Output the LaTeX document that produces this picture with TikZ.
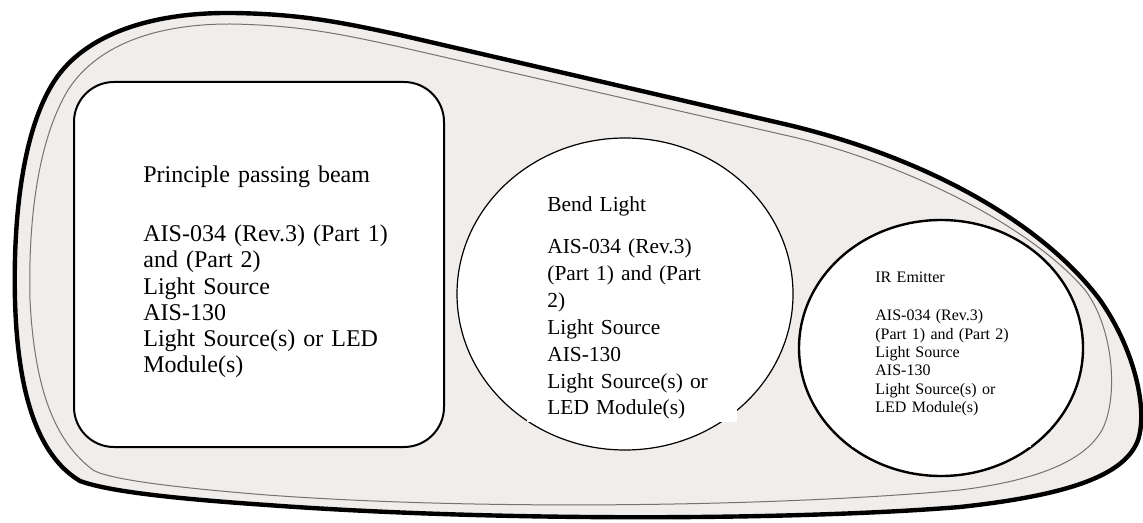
\documentclass[tikz,border=0pt]{standalone}
\usepackage{fontspec}
\setmainfont{Liberation Serif}
\usepackage{tikz}
\usetikzlibrary{positioning}
\definecolor{shellgrey}{RGB}{240,237,235}

\begin{document}
\begin{tikzpicture}[
x=0.5pt,y=-0.5pt,
Shell/.style={draw=black,line width=2.2pt,fill=shellgrey,line join=round},
InnerRim/.style={draw=black!55,line width=0.5pt},
MainBox/.style={draw=black,line width=1pt,fill=white,rounded corners=20pt},
BendLamp/.style={draw=black,line width=0.6pt,fill=white},
IrLamp/.style={draw=black,line width=1.2pt,fill=white},
Patch/.style={fill=white},
LampText/.style={anchor=base west,inner sep=0pt,align=left}
]
\useasboundingbox (0,0) rectangle (1143,523);

% lamp housing
\draw[Shell] (15,300)
  .. controls (13,220) and (22,130) .. (55,80)
  .. controls (85,35) and (150,12) .. (233,13)
  .. controls (300,14) and (340,22) .. (400,35)
  -- (780,123)
  .. controls (920,155) and (1040,220) .. (1100,300)
  .. controls (1135,350) and (1148,410) .. (1138,440)
  .. controls (1125,475) and (1070,495) .. (960,507)
  .. controls (800,520) and (500,522) .. (267,505)
  .. controls (180,499) and (110,492) .. (80,481)
  .. controls (45,460) and (18,410) .. (15,300) -- cycle;
\draw[InnerRim] (30,300)
  .. controls (28,220) and (38,140) .. (68,90)
  .. controls (95,48) and (150,24) .. (230,24)
  .. controls (300,25) and (345,35) .. (400,47)
  -- (780,134)
  .. controls (900,160) and (1030,225) .. (1085,290)
  .. controls (1115,330) and (1118,400) .. (1102,430)
  .. controls (1085,460) and (1040,480) .. (960,490)
  .. controls (800,505) and (500,512) .. (267,495)
  .. controls (180,488) and (110,480) .. (93,470)
  .. controls (60,445) and (35,400) .. (30,300) -- cycle;

\coordinate (bendC) at (625,294);
\coordinate (irC) at (941,348);

\draw[MainBox] (74,82) rectangle (444,447);
\draw[BendLamp] (bendC) ellipse [x radius=168, y radius=156];
\draw[IrLamp] (irC) ellipse [x radius=142, y radius=128];

% text boxes
\fill[Patch] (527,380) rectangle (737,422);
\fill[Patch] (852,420) rectangle (1031,447);

\node[LampText,text width=170pt,font=\fontsize{12}{13.1}\selectfont] (beamtxt) at (143,183)
{Principle passing beam\\[16.25pt]
AIS-034 (Rev.3) (Part 1)\\
and (Part 2)\\
Light Source\\
AIS-130\\
Light Source(s) or LED\\
Module(s)};

\node[LampText,text width=95pt,font=\fontsize{10.7}{13.4}\selectfont] (bendtxt) at (547,211.7)
{Bend Light\\[7.75pt]
AIS-034 (Rev.3)\\
(Part 1) and (Part\\
2)\\
Light Source\\
AIS-130\\
Light Source(s) or\\
LED Module(s)};

\node[LampText,text width=80pt,font=\fontsize{8}{9.2}\selectfont] (irtxt) at (875,282.7)
{IR Emitter\\[9.8pt]
AIS-034 (Rev.3)\\
(Part 1) and (Part 2)\\
Light Source\\
AIS-130\\
Light Source(s) or\\
LED Module(s)};

\end{tikzpicture}
\end{document}
